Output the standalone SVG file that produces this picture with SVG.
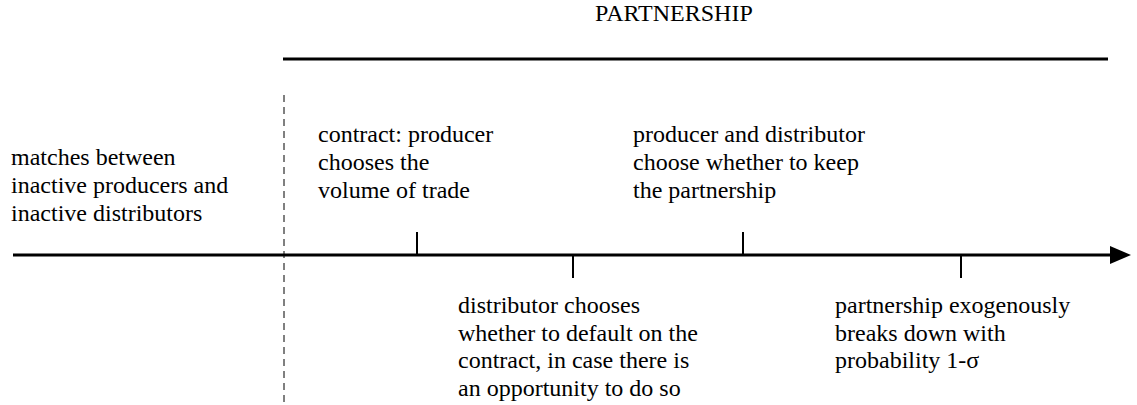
<svg xmlns="http://www.w3.org/2000/svg" width="1137" height="405" viewBox="0 0 1137 405">
<style>
.t{font-family:'Liberation Serif','DejaVu Serif',serif;font-size:24px;fill:#000}
.ax{stroke:#000;stroke-width:3;fill:none}
.tk{stroke:#000;stroke-width:2;fill:none}
.dash{stroke:#000;stroke-width:1;stroke-dasharray:7 5;fill:none}
</style>
<g id="title">
<text class="t" x="595" y="21" font-size="26">PARTNERSHIP</text>
<line class="ax" x1="283" y1="59" x2="1108" y2="59"/>
</g>
<g id="connectors">
<line class="dash" x1="284" y1="95" x2="284" y2="405"/>
<line class="ax" x1="13" y1="255" x2="1112" y2="255"/>
<path d="M1110,246 L1131,255 L1110,264 Z" fill="#000"/>
<line class="tk" x1="417" y1="232" x2="417" y2="255"/>
<line class="tk" x1="573" y1="255" x2="573" y2="278"/>
<line class="tk" x1="743" y1="232" x2="743" y2="255"/>
<line class="tk" x1="961" y1="255" x2="961" y2="278"/>
</g>
<g id="n-matches">
<text class="t" x="11" y="165">matches between</text>
<text class="t" x="11" y="193">inactive producers and</text>
<text class="t" x="11" y="221">inactive distributors</text>
</g>
<g id="n-contract">
<text class="t" x="318" y="142">contract: producer</text>
<text class="t" x="318" y="170">chooses the</text>
<text class="t" x="318" y="198">volume of trade</text>
</g>
<g id="n-keep">
<text class="t" x="633" y="142">producer and distributor</text>
<text class="t" x="633" y="170">choose whether to keep</text>
<text class="t" x="633" y="198">the partnership</text>
</g>
<g id="n-default">
<text class="t" x="458" y="313">distributor chooses</text>
<text class="t" x="458" y="341">whether to default on the</text>
<text class="t" x="458" y="368">contract, in case there is</text>
<text class="t" x="458" y="396">an opportunity to do so</text>
</g>
<g id="n-breakdown">
<text class="t" x="835" y="313">partnership exogenously</text>
<text class="t" x="835" y="341">breaks down with</text>
<text class="t" x="835" y="368">probability 1-σ</text>
</g>
</svg>
